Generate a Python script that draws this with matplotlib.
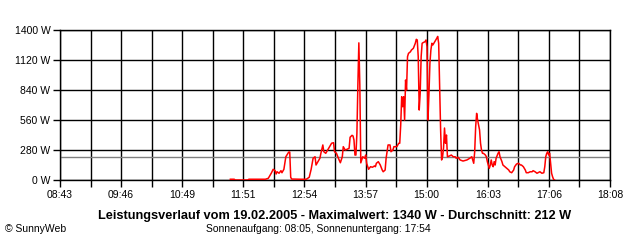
import matplotlib
matplotlib.use("Agg")
from matplotlib import pyplot as plt

# power readings (clock time, watts)
times = ["11:38", "11:42", "11:43", "11:56", "11:57", "12:14", "12:17", "12:20", "12:22", "12:24",
         "12:25", "12:26", "12:28", "12:30", "12:31", "12:33", "12:34", "12:35", "12:38", "12:39",
         "12:40", "12:41", "12:50", "12:56", "12:59", "13:01", "13:03", "13:05", "13:06", "13:08",
         "13:10", "13:11", "13:13", "13:14", "13:16", "13:18", "13:20", "13:22", "13:24", "13:25",
         "13:27", "13:29", "13:31", "13:33", "13:34", "13:36", "13:38", "13:40", "13:41", "13:43",
         "13:44", "13:45", "13:46", "13:47", "13:48", "13:49", "13:50", "13:51", "13:52", "13:54",
         "13:56", "13:57", "13:58", "14:00", "14:02", "14:04", "14:06", "14:07", "14:08", "14:10",
         "14:12", "14:14", "14:15", "14:17", "14:18", "14:19", "14:20", "14:22", "14:23", "14:25",
         "14:26", "14:29", "14:31", "14:32", "14:33", "14:34", "14:35", "14:36", "14:37", "14:38",
         "14:39", "14:40", "14:41", "14:43", "14:44", "14:46", "14:48", "14:49", "14:50", "14:51",
         "14:52", "14:53", "14:54", "14:55", "14:56", "14:58", "14:59", "15:00", "15:01", "15:02",
         "15:03", "15:04", "15:05", "15:06", "15:08", "15:10", "15:11", "15:12", "15:13", "15:14",
         "15:15", "15:16", "15:17", "15:18", "15:19", "15:20", "15:21", "15:23", "15:25", "15:27",
         "15:29", "15:30", "15:32", "15:34", "15:37", "15:41", "15:44", "15:46", "15:48", "15:49",
         "15:50", "15:51", "15:52", "15:53", "15:54", "15:55", "15:56", "15:57", "15:58", "16:00",
         "16:01", "16:02", "16:03", "16:04", "16:05", "16:06", "16:07", "16:08", "16:09", "16:10",
         "16:11", "16:13", "16:14", "16:15", "16:17", "16:18", "16:20", "16:22", "16:24", "16:25",
         "16:27", "16:29", "16:30", "16:32", "16:34", "16:36", "16:37", "16:39", "16:41", "16:42",
         "16:44", "16:46", "16:48", "16:49", "16:51", "16:53", "16:54", "16:56", "16:58", "17:00",
         "17:01", "17:02", "17:03", "17:04", "17:05", "17:06", "17:07", "17:08", "17:09", "17:10",
         "17:11"]
watts = [7, 7, 0, 0, 7, 7, 16, 63, 100, 87,
         56, 77, 63, 87, 68, 100, 156, 217, 261, 261,
         25, 9, 7, 7, 25, 100, 203, 217, 140, 171,
         203, 249, 327, 264, 249, 280, 311, 343, 348, 264,
         249, 203, 161, 217, 311, 280, 287, 296, 399, 417,
         411, 373, 233, 233, 436, 887, 1280, 887, 160, 217,
         203, 233, 156, 100, 124, 119, 131, 124, 156, 171,
         140, 93, 77, 93, 203, 264, 327, 327, 264, 280,
         311, 311, 343, 343, 513, 777, 684, 777, 560, 933,
         840, 1151, 1182, 1197, 1213, 1229, 1276, 1313, 1307, 1151,
         653, 809, 1151, 1276, 1282, 1291, 1307, 1244, 560, 800,
         1089, 1213, 1276, 1260, 1291, 1322, 1340, 1276, 856, 467,
         187, 217, 300, 485, 343, 420, 217, 224, 233, 217,
         217, 203, 212, 187, 177, 187, 203, 217, 156, 264,
         497, 622, 560, 513, 467, 343, 280, 249, 249, 233,
         217, 171, 140, 109, 140, 187, 140, 124, 171, 140,
         203, 249, 264, 217, 171, 140, 124, 109, 93, 77,
         68, 93, 124, 149, 156, 140, 140, 124, 93, 68,
         68, 77, 77, 87, 77, 63, 68, 77, 63, 68,
         124, 217, 249, 264, 233, 249, 156, 63, 31, 7,
         0]

average = 212
maximum = 1340
tick_labels = ["08:43", "09:46", "10:49", "11:51", "12:54", "13:57", "15:00", "16:03", "17:06", "18:08"]
y_ticks = [0, 280, 560, 840, 1120, 1400]


def to_min(s):
    h, m = s.split(":")
    return int(h) * 60 + int(m)


x = [to_min(t) for t in times]
t0 = to_min(tick_labels[0])
t1 = to_min(tick_labels[-1])
step = (t1 - t0) / (len(tick_labels) - 1)
major = [t0 + i * step for i in range(len(tick_labels))]
minor = [t0 + (i + 0.5) * step for i in range(len(tick_labels) - 1)]

plt.rcParams['font.family'] = ['Liberation Sans', 'DejaVu Sans']

fig = plt.figure(figsize=(6.4, 2.4), dpi=100)
ax = fig.add_axes([60 / 640, 60 / 240, 550 / 640, 150 / 240])

for v in major + minor:
    ax.axvline(v, color="black", lw=1, zorder=1)
for v in y_ticks:
    ax.axhline(v, color="black", lw=1, zorder=1)
ax.axhline(average, color="#808080", lw=1, zorder=2)

ax.plot(x, watts, color="#ff0000", lw=1.1, zorder=3)

ax.set_xlim(t0, t1)
ax.set_ylim(0, 1400)
ax.set_xticks(major)
ax.set_xticks(minor, minor=True)
ax.set_xticklabels(tick_labels)
ax.set_yticks(y_ticks)
ax.set_yticklabels([f"{v} W" for v in y_ticks])
ax.tick_params(axis="both", which="both", length=5, width=1, color="black",
               labelsize=7.5, pad=2)
ax.tick_params(axis="x", which="minor", length=5)
for s in ax.spines.values():
    s.set_linewidth(1)
    s.set_color("black")

fig.text(335 / 640, 1 - 216 / 240, f"Leistungsverlauf vom 19.02.2005 - Maximalwert: {maximum} W - Durchschnitt: {average} W",
         ha="center", va="center", fontsize=9.2, fontweight="bold")
fig.text(318 / 640, 1 - 229 / 240, "Sonnenaufgang: 08:05, Sonnenuntergang: 17:54",
         ha="center", va="center", fontsize=7.5)
fig.text(5 / 640, 1 - 229 / 240, "© SunnyWeb", ha="left", va="center", fontsize=7.5)

fig.savefig("out.png", dpi=100, facecolor="white")
